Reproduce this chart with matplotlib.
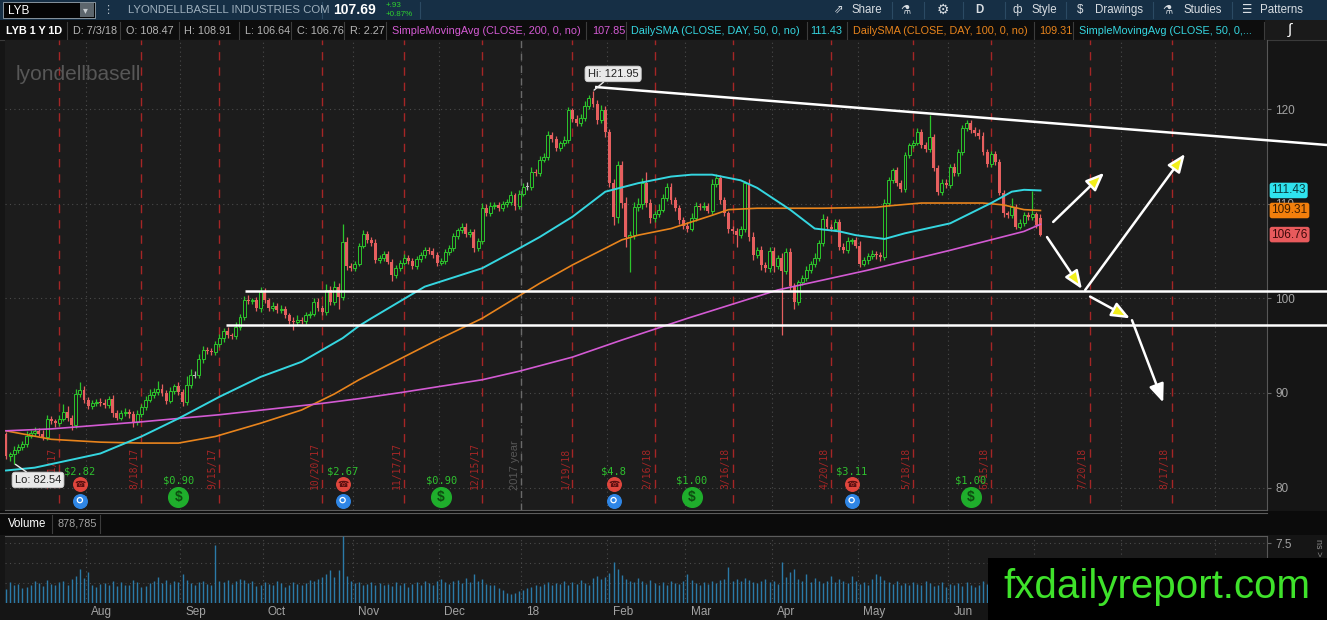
import matplotlib
matplotlib.use("Agg")
import matplotlib.pyplot as plt
import matplotlib.transforms as mtransforms
from matplotlib.patches import Rectangle
from matplotlib.lines import Line2D
import numpy as np
import pandas as pd

plt.rcParams['font.family'] = ['Liberation Sans', 'DejaVu Sans']

# ---------------- trading calendar ----------------
holidays = ["2017-07-04", "2017-09-04", "2017-11-23", "2017-12-25", "2018-01-01",
            "2018-01-15", "2018-02-19", "2018-03-30", "2018-05-28", "2018-07-04",
            "2018-09-03"]
cal = pd.bdate_range("2017-07-03", "2018-09-28", freq="C", holidays=holidays)

# ---------------- daily bars, 7/3/17 .. 7/3/18 ----------------
open_first = 85.7
open_last = 108.47
closes = [
    83.3, 83.5, 84.0, 84.3, 84.6, 85.5, 85.8, 86.0, 85.7, 85.3,
    87.2, 87.0, 86.8, 87.3, 88.0, 87.4, 86.6, 89.9, 90.3, 89.3,
    88.6, 88.9, 89.1, 88.9, 88.7, 89.4, 87.9, 87.4, 87.9, 88.0,
    87.8, 86.9, 87.8, 88.5, 89.3, 89.8, 90.1, 90.4, 90.0, 89.2,
    90.2, 90.7, 90.1, 89.0, 90.8, 91.9, 91.9, 93.6, 94.6, 94.4,
    94.3, 95.2, 95.8, 96.6, 96.1, 96.0, 97.0, 98.0, 99.8, 99.7,
    99.8, 99.0, 100.7, 99.8, 99.0, 99.2, 98.8, 98.9, 98.2, 97.6,
    97.5, 97.7, 97.6, 98.2, 98.4, 99.6, 99.0, 98.6, 100.9, 99.6,
    101.2, 100.2, 106.0, 103.4, 103.2, 103.7, 105.6, 106.8, 106.2, 105.9,
    104.1, 104.3, 104.7, 103.9, 102.5, 103.2, 103.8, 104.3, 104.0, 103.4,
    104.2, 104.6, 105.1, 105.0, 104.6, 103.8, 104.0, 104.9, 105.3, 106.6,
    107.2, 107.6, 106.8, 107.0, 105.3, 106.1, 109.6, 109.0, 109.8, 109.9,
    109.6, 110.0, 110.2, 110.9, 109.8, 111.1, 111.8, 111.8, 113.4, 113.3,
    114.7, 115.0, 117.3, 116.9, 115.9, 116.4, 116.8, 119.9, 119.0, 118.6,
    119.1, 120.4, 121.2, 120.6, 118.9, 119.9, 117.6, 112.2, 108.6, 114.1,
    110.1, 106.5, 106.7, 109.7, 110.0, 112.2, 110.1, 108.5, 108.9, 109.4,
    110.6, 111.8, 110.4, 109.6, 108.3, 107.7, 107.4, 108.5, 109.8, 109.7,
    109.8, 109.3, 112.1, 112.8, 110.4, 109.0, 107.3, 107.1, 106.7, 107.4,
    112.2, 106.5, 104.6, 105.1, 103.5, 103.2, 105.0, 103.4, 104.3, 102.9,
    104.9, 101.3, 99.6, 101.7, 102.2, 103.0, 103.6, 104.3, 105.9, 108.4,
    107.6, 107.4, 108.1, 105.5, 105.1, 106.1, 106.2, 105.6, 103.7, 104.1,
    104.5, 104.7, 104.6, 104.4, 110.1, 112.5, 113.6, 112.2, 111.6, 115.2,
    116.2, 116.5, 117.6, 116.2, 115.8, 117.1, 113.8, 111.3, 112.2, 112.0,
    113.9, 113.3, 115.5, 118.0, 118.6, 117.8, 117.5, 117.2, 115.5, 114.2,
    115.3, 114.4, 111.2, 109.0, 108.8, 109.7, 107.6, 108.0, 108.8, 108.6,
    108.9, 107.8, 106.76,
]
wick_up = [
    0.2, 0.3, 0.4, 0.3, 0.3, 0.5, 0.3, 0.4, 0.3, 0.4,
    0.5, 0.4, 0.3, 0.4, 0.8, 0.6, 0.3, 0.5, 0.9, 0.4,
    0.3, 0.4, 0.3, 0.4, 0.5, 0.3, 0.4, 0.3, 0.3, 0.4,
    0.3, 0.3, 0.4, 0.3, 0.4, 0.6, 0.4, 0.9, 0.5, 0.3,
    0.4, 0.3, 0.5, 0.3, 1.0, 0.6, 0.4, 0.5, 0.4, 0.3,
    0.4, 0.3, 0.4, 0.3, 0.4, 0.3, 0.5, 0.4, 0.5, 0.6,
    0.3, 0.4, 0.5, 0.4, 0.3, 0.4, 0.3, 0.4, 0.3, 0.3,
    0.4, 0.5, 0.3, 0.4, 0.3, 0.5, 0.4, 0.3, 0.6, 0.4,
    0.6, 0.4, 1.9, 0.5, 0.4, 0.3, 0.3, 0.4, 0.3, 0.3,
    0.4, 0.3, 0.3, 0.3, 0.3, 0.3, 0.3, 0.4, 0.3, 0.3,
    0.3, 0.3, 0.4, 0.3, 0.3, 0.3, 0.3, 0.3, 0.4, 0.3,
    0.3, 0.4, 0.4, 0.3, 0.3, 0.3, 0.5, 0.4, 0.4, 0.3,
    0.3, 0.3, 0.3, 0.5, 0.3, 0.4, 0.4, 0.5, 0.5, 0.3,
    0.4, 0.4, 0.4, 0.3, 0.3, 0.3, 0.4, 0.4, 0.3, 0.4,
    0.4, 0.5, 0.3, 0.75, 0.4, 0.6, 0.5, 0.3, 0.4, 0.5,
    0.4, 0.6, 0.4, 0.5, 0.6, 0.5, 1.2, 0.4, 0.4, 0.6,
    0.5, 0.4, 0.4, 0.3, 0.3, 0.3, 0.4, 0.5, 0.4, 0.3,
    0.4, 0.3, 0.5, 0.4, 0.3, 0.3, 0.3, 0.4, 0.4, 0.3,
    0.2, 0.4, 0.5, 0.4, 0.5, 0.4, 0.4, 0.4, 0.3, 0.5,
    0.4, 0.4, 0.3, 0.3, 0.3, 0.4, 0.4, 0.5, 0.3, 0.5,
    0.3, 0.3, 0.3, 0.3, 0.4, 0.4, 0.2, 0.3, 0.5, 0.3,
    0.3, 0.4, 0.3, 0.3, 0.4, 0.4, 0.2, 0.3, 0.3, 0.3,
    0.3, 0.3, 0.4, 0.3, 0.4, 2.3, 0.3, 0.3, 0.4, 0.4,
    0.3, 0.4, 0.3, 0.4, 0.3, 0.3, 0.3, 0.4, 0.4, 0.3,
    0.3, 0.3, 0.4, 0.3, 0.3, 0.9, 0.3, 0.4, 0.3, 0.3,
    2.5, 0.3, 0.44,
]
wick_dn = [
    0.3, 0.5, 0.96, 0.4, 0.3, 0.3, 0.3, 0.4, 0.3, 0.3,
    0.3, 0.3, 0.4, 0.3, 0.3, 0.4, 0.5, 0.3, 0.3, 0.4,
    0.3, 0.3, 0.3, 0.3, 0.3, 0.3, 0.4, 0.3, 0.3, 0.3,
    0.4, 0.5, 0.3, 0.3, 0.3, 0.3, 0.3, 0.3, 0.3, 0.4,
    0.3, 0.3, 0.3, 0.4, 0.3, 0.3, 0.3, 0.3, 0.4, 0.3,
    0.3, 0.3, 0.3, 0.4, 0.3, 0.3, 0.3, 0.3, 0.3, 0.3,
    0.3, 0.3, 0.4, 0.3, 0.3, 0.3, 0.3, 0.3, 0.3, 0.3,
    0.8, 0.3, 0.3, 0.3, 0.3, 0.3, 0.3, 0.3, 0.3, 0.3,
    0.3, 1.3, 0.4, 0.4, 0.3, 0.3, 0.3, 0.3, 0.3, 0.3,
    0.3, 0.3, 0.3, 0.3, 0.7, 0.3, 0.3, 0.3, 0.3, 0.3,
    0.3, 0.3, 0.3, 0.3, 0.3, 0.4, 0.3, 0.3, 0.3, 0.3,
    0.3, 0.3, 0.3, 0.3, 0.4, 0.3, 0.3, 0.3, 0.3, 0.3,
    0.3, 0.3, 0.3, 0.3, 0.4, 0.3, 0.3, 0.3, 0.3, 0.3,
    0.3, 0.3, 0.3, 0.3, 0.3, 0.3, 0.3, 0.3, 0.3, 0.3,
    0.3, 0.3, 0.3, 0.3, 0.4, 0.3, 0.5, 0.4, 0.8, 0.6,
    0.5, 1.0, 3.7, 0.4, 0.4, 0.5, 0.4, 0.5, 0.4, 0.3,
    0.3, 0.3, 0.4, 0.3, 0.4, 0.3, 0.4, 0.3, 0.3, 0.3,
    0.3, 0.3, 0.4, 0.3, 0.4, 0.3, 0.4, 0.3, 1.2, 0.3,
    0.4, 0.4, 0.5, 0.3, 0.5, 0.4, 0.4, 0.6, 0.3, 6.8,
    0.3, 0.4, 0.7, 0.3, 0.3, 0.3, 0.3, 0.3, 0.3, 0.3,
    0.3, 0.3, 0.3, 0.4, 0.3, 0.3, 0.3, 0.3, 0.4, 0.3,
    0.4, 0.3, 0.4, 0.4, 0.3, 0.3, 0.3, 0.3, 0.3, 0.3,
    0.3, 0.3, 0.3, 0.3, 0.3, 0.3, 0.3, 0.3, 0.3, 0.3,
    0.3, 0.3, 0.3, 0.3, 0.3, 0.3, 0.3, 0.3, 0.3, 0.3,
    0.3, 0.3, 0.3, 0.4, 0.3, 0.3, 0.3, 0.3, 0.3, 0.3,
    0.3, 0.3, 0.12,
]
volume_m = [
    1.8, 2.6, 2.2, 2.4, 1.9, 2.0, 2.3, 2.8, 2.5, 2.1,
    2.9, 2.4, 2.2, 2.6, 2.7, 2.3, 3.0, 3.4, 4.3, 3.1,
    3.9, 2.2, 2.0, 2.4, 2.5, 2.3, 2.7, 2.1, 2.6, 2.2,
    2.3, 2.9, 2.6, 2.0, 2.1, 2.5, 2.8, 3.3, 2.5, 2.9,
    2.4, 2.7, 2.6, 3.6, 2.9, 2.5, 2.3, 2.6, 2.8, 2.4,
    2.2, 7.3, 2.7, 2.6, 2.9, 2.4, 2.8, 3.0, 2.9, 2.5,
    2.7, 2.1, 2.3, 2.6, 2.4, 2.2, 2.7, 2.5, 2.0, 2.3,
    2.6, 2.4, 2.2, 2.5, 2.9, 2.8, 3.0, 3.2, 3.6, 4.1,
    3.3, 4.1, 8.4, 3.4, 2.7, 2.5, 2.6, 2.3, 2.4, 2.6,
    2.2, 2.5, 2.3, 2.4, 2.1, 2.6, 2.3, 2.5, 2.0, 2.4,
    2.6, 2.3, 2.7, 2.5, 2.2, 2.8, 3.0, 2.6, 2.4, 2.7,
    2.9, 2.5, 3.1, 2.6, 3.6, 2.8, 3.0, 2.4, 2.2, 2.3,
    1.9, 1.6, 1.2, 1.1, 1.3, 1.5, 1.6, 1.9, 2.0, 2.3,
    2.1, 2.4, 2.6, 2.2, 2.5, 2.4, 2.8, 2.3, 2.6, 2.4,
    2.9, 2.5, 2.3, 3.1, 3.4, 3.0, 3.3, 3.8, 5.1, 4.3,
    3.5, 3.0, 2.8, 2.6, 3.1, 2.7, 2.4, 2.9, 2.5, 2.2,
    2.6, 2.3, 2.8, 2.5, 2.4, 2.7, 3.6, 2.9, 2.5, 2.3,
    2.6, 2.4, 2.7, 2.5, 2.9, 3.0, 4.5, 2.8, 3.0, 2.7,
    3.1, 2.9, 2.6, 2.5, 2.8, 3.0, 2.6, 2.7, 2.4, 5.1,
    3.2, 3.9, 4.3, 3.0, 2.8, 3.6, 2.6, 3.1, 2.7, 2.5,
    2.8, 3.4, 2.6, 3.0, 2.7, 2.5, 3.4, 2.8, 2.4, 2.6,
    2.3, 3.0, 3.6, 3.4, 2.9, 2.6, 2.4, 2.7, 2.3, 2.5,
    2.2, 2.6, 2.4, 2.2, 2.8, 2.5, 2.1, 2.3, 2.6, 2.0,
    2.4, 2.2, 2.5, 2.1, 2.6, 2.3, 2.0, 2.2, 2.7, 2.4,
    2.1, 2.5, 2.9, 3.3, 2.6, 2.4, 2.8, 2.3, 2.2, 2.5,
    2.0, 1.9, 0.88,
]

# ---------------- moving averages (bar index, value) ----------------
sma50_days = [0, 7, 23, 33, 42, 52, 62, 72, 77, 82, 86, 89, 102, 116, 125, 130, 138, 146,
              154, 162, 167, 172, 179, 183, 191, 197, 203, 207, 214, 219, 230, 240, 245, 248, 252]
sma50_vals = [81.8, 82.1, 83.6, 85.4, 87.3, 89.6, 91.7, 93.3, 94.55, 95.8, 97.1, 97.9, 101.25,
              103.2, 105.3, 106.5, 108.65, 111.3, 112.2, 112.9, 113.1, 113.1, 112.5, 111.7,
              109.4, 107.4, 107.1, 106.7, 106.3, 106.9, 107.95, 110.1, 111.3, 111.5, 111.43]
sma100_days = [0, 11, 23, 33, 42, 51, 62, 72, 80, 86, 105, 116, 130, 138, 150, 154, 162, 167,
               172, 176, 183, 199, 212, 215, 223, 238, 243, 248, 252]
sma100_vals = [86.0, 85.1, 84.8, 84.7, 84.7, 85.4, 86.8, 88.2, 89.9, 91.4, 95.6, 97.9, 101.6,
               103.55, 106.2, 106.7, 107.4, 108.1, 108.8, 109.4, 109.55, 109.55, 109.65, 109.8,
               110.1, 110.1, 109.9, 109.4, 109.31]
sma200_days = [0, 11, 33, 52, 77, 86, 97, 116, 125, 138, 150, 166, 188, 210, 230, 248, 252]
sma200_vals = [86.0, 86.2, 86.95, 87.7, 88.9, 89.4, 90.1, 91.4, 92.3, 93.8, 95.6, 97.9, 100.9,
               103.0, 105.1, 107.1, 107.85]

# ---------------- events ----------------
expirations = ["2017-07-21", "2017-08-18", "2017-09-15", "2017-10-20", "2017-11-17",
               "2017-12-15", "2018-01-19", "2018-02-16", "2018-03-16", "2018-04-20",
               "2018-05-18", "2018-06-15", "2018-07-20", "2018-08-17"]
earn_dates = ["2017-07-28", "2017-10-27", "2018-02-02", "2018-04-27"]
earn_labels = ["$2.82", "$2.67", "$4.8", "$3.11"]
div_dates = ["2017-08-31", "2017-12-01", "2018-03-02", "2018-06-08"]
div_labels = ["$0.90", "$0.90", "$1.00", "$1.00"]

# ---------------- drawings (bar index, price) ----------------
trend_x = [143.5, 321.8]
trend_y = [122.38, 116.24]
support_levels = [100.83, 97.2]
support_start = [58.2, 53.6]
arrow_x0 = [255.1, 253.6, 262.9, 264.1, 274.3]
arrow_y0 = [108.1, 106.5, 100.9, 100.2, 97.7]
arrow_x1 = [267.5, 262.1, 287.2, 273.8, 281.9]
arrow_y1 = [113.3, 101.0, 115.3, 97.9, 89.0]
price_ticks = [80, 90, 100, 110, 120]

# ---------------- colours ----------------
BG = '#1c1c1c'
GREEN = '#2cc52c'
RED = '#e65f5f'
CYAN = '#35d6e0'
ORANGE = '#e8841c'
MAGENTA = '#d35ad3'
EVENT_RED = '#a52626'
GRID = '#4a4a4a'

W, H = 1327, 620
fig = plt.figure(figsize=(W / 100, H / 100), dpi=100, facecolor='#151515')


def frect(x, y, w, h, z=-5, **kw):
    fig.add_artist(Rectangle((x / W, 1 - (y + h) / H), w / W, h / H,
                             transform=fig.transFigure, zorder=z, **kw))


def ftext(x, y, s, **kw):
    kw.setdefault('va', 'center')
    fig.text(x / W, 1 - y / H, s, **kw)


def fline(x0, y0, x1, y1, **kw):
    fig.add_artist(Line2D([x0 / W, x1 / W], [1 - y0 / H, 1 - y1 / H],
                          transform=fig.transFigure, **kw))


# px -> bar index: candle i sits at 6 + 4.105 * i
XL = ((5 - 6) / 4.105, (1267 - 6) / 4.105)

# ---------------- main price panel ----------------
ax = fig.add_axes([5 / W, 1 - 510 / H, 1262 / W, 470 / H], facecolor=BG)
ax.set_xlim(XL)
ax.set_ylim(77.62, 127.35)
for s in ['top', 'left']:
    ax.spines[s].set_visible(False)
ax.spines['right'].set_color('#575757')
ax.spines['bottom'].set_color('#5c5c5c')
ax.yaxis.tick_right()
ax.set_yticks(price_ticks)
ax.set_yticklabels([str(t) for t in price_ticks])
ax.tick_params(axis='y', colors='#666666', labelcolor='#a3a3a3', labelsize=8.5, length=3, pad=3)
ax.set_xticks([])

bx = mtransforms.blended_transform_factory(ax.transData, ax.transAxes)

pos = pd.Series(np.arange(len(cal)), index=cal)
month_first = pos.groupby([cal.year, cal.month]).first().iloc[1:]
month_keys = list(month_first.index)


def day(s):
    return int(pos[pd.Timestamp(s)])


for p in price_ticks:
    ax.hlines(p, XL[0], XL[1], color=GRID, lw=0.8, ls=(0, (1, 3)), zorder=1)
for m in month_first.values:
    ax.axvline(m - 0.5, color=GRID, lw=0.8, ls=(0, (1, 3)), zorder=1)
year_idx = day("2018-01-02") - 0.5
ax.axvline(year_idx, color='#6a6a6a', lw=1, ls=(0, (5, 4)), zorder=1)
ax.text(year_idx - 1.5, 0.043, "2017 year", transform=bx, rotation=90, ha='center',
        va='bottom', color='#575757', fontsize=8, zorder=2)

for d in expirations:
    i = day(d)
    ax.axvline(i, ymin=0.015, color=EVENT_RED, lw=1, ls=(0, (6, 5)), zorder=1)
    t = pd.Timestamp(d)
    ax.text(i - 1.7, 0.045, f"{t.month}/{t.day}/{t.strftime('%y')}", transform=bx,
            rotation=90, ha='center', va='bottom', color=EVENT_RED, fontsize=7,
            family='DejaVu Sans Mono', zorder=2)

# candles
closes_a = np.array(closes)
opens_a = np.array([open_first] + closes[:-1])
opens_a[-1] = open_last
idx = np.arange(len(closes_a))
hi = np.maximum(opens_a, closes_a) + np.array(wick_up)
lo = np.minimum(opens_a, closes_a) - np.array(wick_dn)
up = closes_a > opens_a + 0.02
dn = closes_a < opens_a - 0.02
flat = ~(up | dn)

ax.vlines(idx[up], lo[up], hi[up], color=GREEN, lw=0.9, zorder=3)
ax.vlines(idx[dn], lo[dn], hi[dn], color=RED, lw=0.9, zorder=3)
ax.vlines(idx[flat], lo[flat], hi[flat], color='#bbbbbb', lw=0.9, zorder=3)
ax.bar(idx[up], np.maximum((closes_a - opens_a)[up], 0.08), bottom=opens_a[up], width=0.72,
       facecolor=BG, edgecolor=GREEN, lw=0.7, zorder=4)
ax.bar(idx[dn], np.maximum((opens_a - closes_a)[dn], 0.08), bottom=closes_a[dn], width=0.72,
       color=RED, lw=0, zorder=4)
ax.bar(idx[flat], 0.1, bottom=closes_a[flat] - 0.05, width=0.72, color='#bbbbbb', lw=0, zorder=4)

ax.plot(sma100_days, sma100_vals, color=ORANGE, lw=1.2, zorder=5)
ax.plot(sma200_days, sma200_vals, color=MAGENTA, lw=1.2, zorder=5)
ax.plot(sma50_days, sma50_vals, color=CYAN, lw=1.4, zorder=5)

# hand drawings
ax.plot(trend_x, trend_y, color='white', lw=1.8, zorder=6, clip_on=False, solid_capstyle='butt')
for lvl, x0 in zip(support_levels, support_start):
    ax.plot([x0, 321.8], [lvl, lvl], color='white', lw=1.8, zorder=6, clip_on=False,
            solid_capstyle='butt')
for k in range(len(arrow_x0)):
    head = '#f2ef1a' if k < 4 else 'white'
    ax.annotate('', xy=(arrow_x1[k], arrow_y1[k]), xytext=(arrow_x0[k], arrow_y0[k]),
                arrowprops=dict(arrowstyle='-|>,head_length=1.1,head_width=0.45', lw=1.8,
                                ec='white', fc=head, shrinkA=0, shrinkB=0),
                annotation_clip=False, zorder=7)

# event icons
for d, lab in zip(earn_dates, earn_labels):
    i = day(d)
    ax.text(i, 0.081, lab, transform=bx, ha='center', va='center', color='#2fc12f',
            fontsize=7.5, family='DejaVu Sans Mono', zorder=6)
    ax.scatter([i], [0.055], transform=bx, s=95, color='#e0463d', zorder=6, clip_on=False)
    ax.text(i, 0.055, "☎", transform=bx, ha='center', va='center', color='#5a1010',
            fontsize=6.5, family='DejaVu Sans', zorder=7)
    ax.scatter([i], [0.019], transform=bx, s=95, color='#2f86e6', zorder=6, clip_on=False)
    ax.scatter([i], [0.021], transform=bx, s=14, facecolor='none', edgecolor='white',
               lw=0.9, zorder=7, clip_on=False)
for d, lab in zip(div_dates, div_labels):
    i = day(d)
    ax.text(i, 0.062, lab, transform=bx, ha='center', va='center', color='#2fc12f',
            fontsize=7.5, family='DejaVu Sans Mono', zorder=6)
    ax.scatter([i], [0.028], transform=bx, s=200, color='#1fae2c', zorder=6, clip_on=False)
    ax.text(i, 0.027, "$", transform=bx, ha='center', va='center', color='#0d4d10',
            fontsize=10, fontweight='bold', zorder=7)

# hi / lo flags
box = dict(boxstyle='round,pad=0.25,rounding_size=0.3', fc='#e9e9e9', ec='#cfcfcf', lw=0.6)
hi_i = int(np.argmax(hi))
lo_i = int(np.argmin(lo))
ax.annotate(f"Hi: {hi[hi_i]:.2f}", xy=(hi_i, hi[hi_i]), xytext=(147.9, 123.76),
            ha='center', va='center', fontsize=8, color='#222222', bbox=box, zorder=8,
            arrowprops=dict(arrowstyle='-', color='#e9e9e9', lw=1, shrinkA=0, shrinkB=1))
ax.annotate(f"Lo: {lo[lo_i]:.2f}", xy=(lo_i, lo[lo_i]), xytext=(7.8, 80.8),
            ha='center', va='center', fontsize=8, color='#222222', bbox=box, zorder=8,
            arrowprops=dict(arrowstyle='-', color='#e9e9e9', lw=1, shrinkA=0, shrinkB=1))

# current value flags on the price axis
by = mtransforms.blended_transform_factory(ax.transAxes, ax.transData)
for val, fc, tc in [(sma50_vals[-1], '#2fe3ee', '#08393c'), (sma100_vals[-1], '#f27f0c', '#3d1d00'),
                    (closes[-1], '#e85a5c', '#3d0a0a')]:
    ax.text(1.0035, val, f"{val:.2f}", transform=by, ha='left', va='center', fontsize=8.5,
            color=tc, zorder=9, clip_on=False,
            bbox=dict(boxstyle='round,pad=0.15,rounding_size=0.2', fc=fc, ec='none'))

ax.text(11 / 1262, 1 - 35 / 470, "lyondellbasell", transform=ax.transAxes, ha='left',
        va='center', fontsize=15, color='#575757', zorder=2)

# ---------------- volume panel ----------------
vax = fig.add_axes([5 / W, 1 - 603 / H, 1262 / W, 67 / H], facecolor=BG)
vax.set_xlim(XL)
vax.set_ylim(0, 8.375)
vax.spines['left'].set_visible(False)
vax.spines['bottom'].set_visible(False)
vax.spines['top'].set_color('#5c5c5c')
vax.spines['right'].set_color('#575757')
vax.yaxis.tick_right()
vax.set_yticks([7.5])
vax.set_yticklabels(["7.5"])
vax.tick_params(axis='y', colors='#666666', labelcolor='#a3a3a3', labelsize=8.5, length=3, pad=3)
vax.set_xticks([])
for g in [2.5, 5.0, 7.5]:
    vax.hlines(g, XL[0], XL[1], color=GRID, lw=0.8, ls=(0, (1, 3)), zorder=1)
for m in month_first.values:
    vax.axvline(m - 0.5, color=GRID, lw=0.8, ls=(0, (1, 3)), zorder=1)
vax.vlines(np.arange(len(volume_m)), 0, volume_m, color='#2b7aa8', lw=1.0, zorder=3)

vbx = mtransforms.blended_transform_factory(vax.transData, vax.transAxes)
for (yr, mo), m in zip(month_keys, month_first.values):
    lab = "18" if (yr == 2018 and mo == 1) else pd.Timestamp(yr, mo, 1).strftime('%b')
    vax.text(m + 0.8, -0.13, lab, transform=vbx, ha='left', va='center', color='#a3a3a3',
             fontsize=8.5, clip_on=False)

# ---------------- frame / toolbars ----------------
frect(0, 0, W, 20, fc='#162f45')
frect(0, 20, W, 20, fc='#0d0d0d')
frect(1265, 20, 62, 20, fc='#1a1a1a')
frect(0, 511, W, 24, fc='#0b0b0b')
fline(0, 40, W, 40, color='#3a3a3a', lw=0.8, zorder=-4)
fline(0, 513, 1267, 513, color='#5c5c5c', lw=0.8, zorder=-4)

# top bar
frect(3, 2, 92, 16, z=2, fc='#050505', ec='#9aa7b0', lw=0.6)
frect(80, 3, 14, 14, z=3, fc='#5d666d')
ftext(85, 10, "▾", color='#c7ccd0', fontsize=7, ha='center', zorder=4)
ftext(8, 10.5, "LYB", color='white', fontsize=8.5)
ftext(108, 10, "⋮", color='#b5c0c8', fontsize=8, ha='center')
ftext(128, 10, "LYONDELLBASELL INDUSTRIES COM", color='#9fb0bd', fontsize=8.2)
ftext(333, 10.5, "107.69", color='white', fontsize=10, fontweight='bold')
ftext(386, 5.5, "+.93", color='#2fd12f', fontsize=5.8)
ftext(386, 14.5, "+0.87%", color='#2fd12f', fontsize=5.8)
for xs in [322, 420, 892, 924, 963, 1005, 1066, 1153, 1232]:
    fline(xs, 2, xs, 18, color='#2b4a63', lw=0.8, zorder=-4)
for x, s, kw in [(839, "⇗", {}), (852, "Share", {}), (905, "⚗", {}), (943, "⚙", {'fontsize': 10}),
                 (979, "D", {'fontweight': 'bold'}), (1017, "ф", {}), (1031, "Style", {}),
                 (1080, "$", {}), (1095, "Drawings", {}), (1167, "⚗", {}),
                 (1183, "Studies", {}), (1246, "☰", {}), (1260, "Patterns", {})]:
    kw2 = dict(color='#d8dde2', fontsize=8.3)
    kw2.update(kw)
    ftext(x, 10, s, ha='left' if len(s) > 1 else 'center', **kw2)

# second bar
for xs in [67, 120, 179, 239, 291, 344, 386, 586, 626, 807, 847, 1034, 1073, 1264]:
    fline(xs, 22, xs, 39, color='#3c3c3c', lw=0.8, zorder=-4)
for x, s, col, wt in [(6, "LYB 1 Y 1D", 'white', 'bold'), (73, "D: 7/3/18", '#b5b5b5', 'normal'),
                      (126, "O: 108.47", '#b5b5b5', 'normal'), (184, "H: 108.91", '#b5b5b5', 'normal'),
                      (245, "L: 106.64", '#b5b5b5', 'normal'), (297, "C: 106.76", '#b5b5b5', 'normal'),
                      (350, "R: 2.27", '#b5b5b5', 'normal'),
                      (392, "SimpleMovingAvg (CLOSE, 200, 0, no)", MAGENTA, 'normal'),
                      (592, f"{sma200_vals[-1]:.2f}", MAGENTA, 'normal'),
                      (631, "DailySMA (CLOSE, DAY, 50, 0, no)", CYAN, 'normal'),
                      (810, f"{sma50_vals[-1]:.2f}", CYAN, 'normal'),
                      (853, "DailySMA (CLOSE, DAY, 100, 0, no)", ORANGE, 'normal'),
                      (1039, f"{sma100_vals[-1]:.2f}", ORANGE, 'normal'),
                      (1079, "SimpleMovingAvg (CLOSE, 50, 0,...", CYAN, 'normal')]:
    ftext(x, 31, s, color=col, fontsize=7.8, fontweight=wt)
ftext(1290, 30, "∫", color='white', fontsize=11, ha='center')

# volume header
ftext(8, 524, "Volume", color='white', fontsize=8.3)
ftext(57, 524, "878,785", color='#a3a3a3', fontsize=7.8)
fline(52, 515, 52, 533, color='#3c3c3c', lw=0.8, zorder=-4)
fline(100, 515, 100, 533, color='#3c3c3c', lw=0.8, zorder=-4)
ftext(1318, 548, "ns >", color='#8a8a8a', fontsize=6.5, rotation=-90, ha='center')

# site watermark
frect(988, 558, W - 988, H - 558, z=10, fc='black')
ftext(1157, 587, "fxdailyreport.com", color='#3fe22b', fontsize=29, ha='center', zorder=11,
      family=['Liberation Sans Narrow', 'Liberation Sans', 'DejaVu Sans'])

fig.savefig("out.png", dpi=100, facecolor=fig.get_facecolor())
